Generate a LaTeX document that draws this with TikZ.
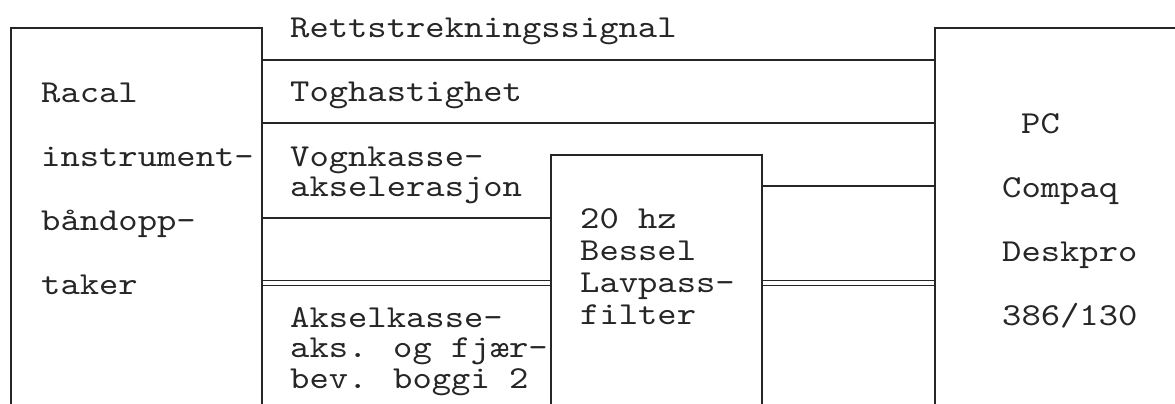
\documentclass[tikz,border=0pt]{standalone}
\usepackage{fontspec}
% Courier-like typewriter face: Latin Modern Mono, widened
\newfontfamily\cour{lmmono10-regular.otf}[FakeStretch=1.15]
\begin{document}
\begin{tikzpicture}[x=1pt,y=-1pt,
    ink/.style={black!85},
    unit/.style={draw, ink, line width=1.6pt, inner sep=0pt, anchor=north west},
    wire/.style={draw, ink, line width=1.6pt},
    bus/.style={draw, ink, line width=1.3pt, double, double distance=4.3pt},
    lbl/.style={anchor=base west, inner sep=0pt, text=black!85,
      font=\cour\fontsize{32pt}{38pt}\selectfont}]
  \useasboundingbox (0,0) rectangle (1175,404);
  \clip (0,0) rectangle (1175,404);
  \fill[white] (0,0) rectangle (1175,404);

  % units (their lower part runs off the sheet)
  \node[unit, minimum width=251pt, minimum height=430pt] (rec) at (10,27) {};
  \node[unit, minimum width=211pt, minimum height=300pt] (flt) at (550,154) {};
  \node[unit, minimum width=280pt, minimum height=430pt] (pc)  at (934,27) {};

  % signal lines
  \draw[wire] (rec.east |- 0,60)  -- (pc.west |- 0,60);
  \draw[wire] (rec.east |- 0,123) -- (pc.west |- 0,123);
  \draw[wire] (flt.east |- 0,186) -- (pc.west |- 0,186);
  \draw[wire] (rec.east |- 0,218) -- (flt.west |- 0,218);
  \draw[bus]  (rec.east |- 0,283) -- (flt.west |- 0,283);
  \draw[bus]  (flt.east |- 0,283) -- (pc.west |- 0,283);

  % recorder
  \foreach \t [count=\i] in {Racal, instrument-, båndopp-, taker}
    \node[lbl] (rec-\i) at (41, 38+64*\i) {\t};

  % signal names
  \node[lbl] (sig-1) at (290,38)  {Rettstrekningssignal};
  \node[lbl] (sig-2) at (290,101) {Toghastighet};
  \node[lbl] (sig-3) at (290,166) {Vognkasse-};
  \node[lbl] (sig-4) at (290,196) {akselerasjon};
  \node[lbl] (sig-5) at (290,327) {Akselkasse-};
  \node[lbl] (sig-6) at (290,357) {aks. og fjær-};
  \node[lbl] (sig-7) at (290,388) {bev. boggi 2};

  % filter
  \foreach \t [count=\i] in {20 hz, Bessel, Lavpass-, filter}
    \node[lbl] (flt-\i) at (580, 196+32*\i) {\t};

  % computer
  \node[lbl] (pc-1) at (1021,133) {PC};
  \foreach \t [count=\i] in {Compaq, Deskpro, 386/130}
    \node[lbl] (pc-\the\numexpr\i+1\relax) at (1002, 133+64*\i) {\t};
\end{tikzpicture}
\end{document}
